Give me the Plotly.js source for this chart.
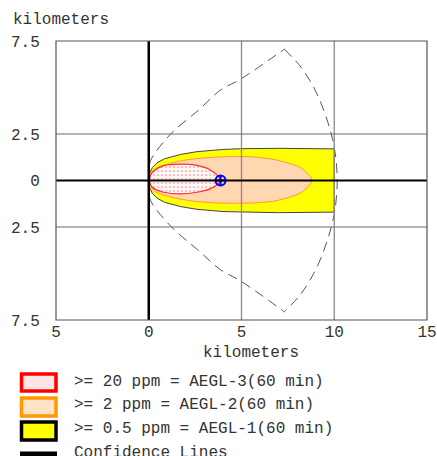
<!DOCTYPE html>
<html><head><meta charset="utf-8">
<script src="https://cdn.plot.ly/plotly-3.0.1.min.js"></script>
<style>html,body{margin:0;padding:0;background:#fff}#chart{width:437px;height:456px}</style>
</head><body><div id="chart"></div>
<script>
// Threat zone boundaries (km downwind x, km crosswind y)
const yellowX = [0,0.05,0.2,0.45,0.85,1.7,2.6,4,5,7,10,10,7,5,4,2.6,1.7,0.85,0.45,0.2,0.05,0];
const yellowY = [0,0.4,0.7,0.95,1.17,1.4,1.55,1.67,1.71,1.73,1.7,-1.7,-1.73,-1.71,-1.67,-1.55,-1.4,-1.17,-0.95,-0.7,-0.4,0];
const orangeX = [0.04,0.1,0.3,0.8,1.7,2.5,3.5,5,5.7,6.7,7.3,8.2,8.8,8.2,7.3,6.7,5.7,5,3.5,2.5,1.7,0.8,0.3,0.1,0.04];
const orangeY = [0,0.35,0.6,0.82,1.05,1.17,1.25,1.29,1.26,1.14,1.0,0.68,0,-0.66,-0.98,-1.12,-1.2,-1.22,-1.2,-1.12,-1.0,-0.78,-0.57,-0.33,0];
const redX = [0.05,0.1,0.3,0.8,1.7,2.6,3.3,3.78,3.87,3.78,3.3,2.6,1.7,0.8,0.3,0.1,0.05];
const redY = [0,0.3,0.54,0.8,0.88,0.81,0.58,0.18,0,-0.15,-0.45,-0.63,-0.72,-0.63,-0.45,-0.25,0];
const confUpX = [0,0.02,0.1,1.18,2.7,3.87,4.95,7.31];
const confUpY = [0,0.6,1.08,2.5,3.8,4.86,5.45,7.06];
const confLoX = [0,0.02,0.1,1.18,2.7,3.87,4.95,7.31];
const confLoY = [0,-0.6,-1.08,-2.45,-3.78,-4.8,-5.4,-7.06];
const arcX = [7.31,8.2,9.0,9.6,10.0,10.16,10.0,9.6,9.0,8.2,7.31];
const arcY = [7.06,6.1,4.8,3.3,1.8,0,-1.8,-3.3,-4.8,-6.1,-7.06];
const sourceX = [3.87];
const sourceY = [0];
const xTickVals = [-5,0,5,10,15];
const xTickText = ['5','0','5','10','15'];
const yTickVals = [7.5,2.5,0,-2.5,-7.5];
const yTickText = ['7.5','2.5','0','2.5','7.5'];
const gridX = [5,10];
const gridY = [2.5,-2.5];
const legendLabels = ['>= 20 ppm = AEGL-3(60 min)','>= 2 ppm = AEGL-2(60 min)','>= 0.5 ppm = AEGL-1(60 min)','Confidence Lines'];

const FONT = 'Liberation Mono, Courier New, monospace';
const dashStyle = '10px,6px';
const traces = [
  {x:yellowX,y:yellowY,type:'scatter',mode:'lines',fill:'toself',fillcolor:'#ffff00',line:{color:'#444',width:1},hoverinfo:'skip'},
  {x:orangeX,y:orangeY,type:'scatter',mode:'lines',fill:'toself',fillcolor:'#ffe2c4',
    fillpattern:{shape:'.',bgcolor:'#ffe6cc',fgcolor:'#ffc890',size:2,solidity:0.5},line:{color:'#ff9a2e',width:1,shape:'spline',smoothing:0.8},hoverinfo:'skip'},
  {x:redX,y:redY,type:'scatter',mode:'lines',fill:'toself',fillcolor:'#fff0f0',
    fillpattern:{shape:'.',bgcolor:'#fff6f6',fgcolor:'#ff8a8a',size:4,solidity:0.15},line:{color:'#ff3030',width:1.2,shape:'spline',smoothing:0.8},hoverinfo:'skip'},
  {x:confUpX,y:confUpY,type:'scatter',mode:'lines',line:{color:'#555',width:1,dash:dashStyle,shape:'spline'},hoverinfo:'skip'},
  {x:confLoX,y:confLoY,type:'scatter',mode:'lines',line:{color:'#555',width:1,dash:dashStyle,shape:'spline'},hoverinfo:'skip'},
  {x:arcX,y:arcY,type:'scatter',mode:'lines',line:{color:'#555',width:1,dash:dashStyle,shape:'spline'},hoverinfo:'skip'},
];

const shapes = [];
gridX.forEach(v=>shapes.push({type:'line',xref:'x',yref:'paper',x0:v,x1:v,y0:0,y1:1,line:{color:'#8a8a8a',width:1.3},layer:'above'}));
gridY.forEach(v=>shapes.push({type:'line',xref:'paper',yref:'y',x0:0,x1:1,y0:v,y1:v,line:{color:'#6a6a6a',width:1.2},layer:'above'}));
// main axes through the source origin
shapes.push({type:'line',xref:'paper',yref:'y',x0:0,x1:1,y0:0,y1:0,line:{color:'#000',width:2},layer:'above'});
shapes.push({type:'line',xref:'x',yref:'paper',x0:0,x1:0,y0:0,y1:1,line:{color:'#000',width:2.5},layer:'above'});
// plot frame
shapes.push({type:'rect',xref:'paper',yref:'paper',x0:0,x1:1,y0:0,y1:1,line:{color:'#555',width:1.2},layer:'above'});

// legend
const PW = 371, PH = 279, PTOP = 41, PLEFT = 56;
const px = p => (p-PLEFT)/PW;
const py = p => (PTOP+PH-p)/PH;
const boxes = [
  {y0:374,y1:391,line:'#ff0000',fill:'#ffe6e6'},
  {y0:398,y1:416,line:'#ff9900',fill:'#ffe3c6'},
  {y0:422,y1:440,line:'#000000',fill:'#ffff00'}
];
boxes.forEach(b=>shapes.push({type:'rect',xref:'paper',yref:'paper',x0:px(21.5),x1:px(56),y0:py(b.y0),y1:py(b.y1),
  line:{color:b.line,width:3.5},fillcolor:b.fill,layer:'above'}));
shapes.push({type:'line',xref:'paper',yref:'paper',x0:px(20),x1:px(57),y0:py(454),y1:py(454),line:{color:'#000',width:5},layer:'above'});

const rowsY = [382,405,429,453];
const annotations = legendLabels.map((t,i)=>({text:t,xref:'paper',yref:'paper',x:px(72),y:py(rowsY[i]),xanchor:'left',yanchor:'middle',
  showarrow:false,font:{family:FONT,size:16,color:'#333'}}));
annotations.push({text:'kilometers',xref:'paper',yref:'paper',x:px(11),y:py(20),xanchor:'left',yanchor:'middle',showarrow:false,font:{family:FONT,size:16,color:'#333'}});
annotations.push({text:'kilometers',xref:'paper',yref:'paper',x:px(251),y:py(353),xanchor:'center',yanchor:'middle',showarrow:false,font:{family:FONT,size:16,color:'#333'}});

const layout = {
  width:437,height:456,margin:{l:56,r:10,t:41,b:136},
  paper_bgcolor:'#fff',plot_bgcolor:'#fff',showlegend:false,
  font:{family:FONT,size:16,color:'#333'},
  xaxis:{range:[-5,15],tickvals:xTickVals,ticktext:xTickText,showgrid:false,zeroline:false,showline:false,
    ticks:'',tickfont:{family:FONT,size:16,color:'#333'},fixedrange:true},
  yaxis:{range:[-7.5,7.5],tickvals:yTickVals,ticktext:yTickText,showgrid:false,zeroline:false,showline:false,
    ticks:'outside',ticklen:12,tickcolor:'rgba(0,0,0,0)',tickfont:{family:FONT,size:16,color:'#333'},fixedrange:true},
  shapes:shapes,annotations:annotations
};

traces.push({x:sourceX,y:sourceY,type:'scatter',mode:'markers',marker:{symbol:'circle-cross-open',size:10,color:'#0000ff',line:{width:2,color:'#0000ff'}},hoverinfo:'skip'});

Plotly.newPlot('chart',traces,layout,{displayModeBar:false,staticPlot:true});
</script></body></html>
